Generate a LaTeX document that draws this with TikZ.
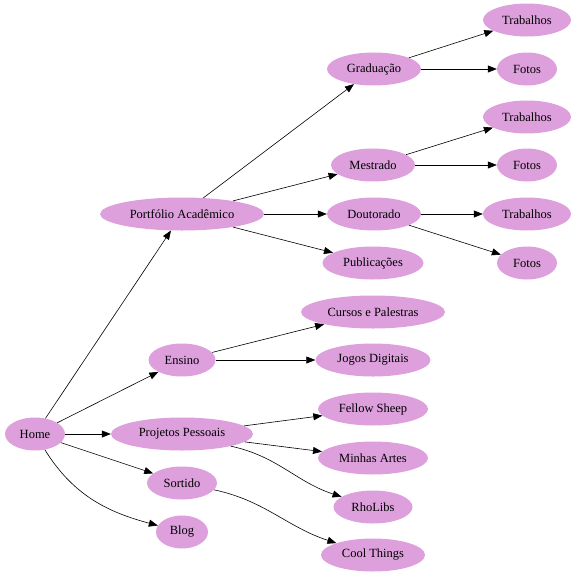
\documentclass[tikz,border=0pt]{standalone}
\usepackage{fontspec}
\setmainfont{Liberation Serif}
\usetikzlibrary{arrows.meta, shapes.geometric}
\definecolor{plum}{HTML}{DDA0DD}

\begin{document}
\begin{tikzpicture}[
  x=1pt, y=-1pt,
  >={Triangle[length=9pt, width=7pt]},
  every node/.style={font=\fontsize{12.5}{14}\selectfont},
  page/.style = {ellipse, fill=plum, inner sep=0pt, minimum height=33pt},
  arr/.style  = {->, line width=0.6pt, black},
]
  \useasboundingbox (0,0) rectangle (576,576);
  % root and first level
  \node[page, minimum width=60pt]  (home)   at (35,434)  {Home};
  \node[page, minimum width=164pt] (port)   at (182,214) {Portfólio Acadêmico};
  \node[page, minimum width=67pt]  (ensino) at (182,360) {Ensino};
  \node[page, minimum width=142pt] (proj)   at (182,434) {Projetos Pessoais};
  \node[page, minimum width=70pt]  (sort)   at (182,483) {Sortido};
  \node[page, minimum width=52pt]  (blog)   at (182,532) {Blog};
  % second level
  \node[page, minimum width=94pt]  (grad)   at (374,69)  {Graduação};
  \node[page, minimum width=84pt]  (mest)   at (373,165) {Mestrado};
  \node[page, minimum width=94pt]  (dout)   at (374,214) {Doutorado};
  \node[page, minimum width=101pt] (pub)    at (373,263) {Publicações};
  \node[page, minimum width=144pt] (cursos) at (373,312) {Cursos e Palestras};
  \node[page, minimum width=115pt] (jogos)  at (373,360) {Jogos Digitais};
  \node[page, minimum width=110pt] (fellow) at (373,409) {Fellow Sheep};
  \node[page, minimum width=110pt] (artes)  at (373,458) {Minhas Artes};
  \node[page, minimum width=79pt]  (rho)    at (373,507) {RhoLibs};
  \node[page, minimum width=104pt] (cool)   at (373,555) {Cool Things};
  % third level
  \node[page, minimum width=88pt]  (gtrab)  at (527,20)  {Trabalhos};
  \node[page, minimum width=60pt]  (gfot)   at (527,69)  {Fotos};
  \node[page, minimum width=88pt]  (mtrab)  at (527,117) {Trabalhos};
  \node[page, minimum width=60pt]  (mfot)   at (527,165) {Fotos};
  \node[page, minimum width=88pt]  (dtrab)  at (527,214) {Trabalhos};
  \node[page, minimum width=60pt]  (dfot)   at (527,263) {Fotos};
  \foreach \a/\b in {home/port,home/ensino,home/proj,home/sort,
                     port/grad,port/mest,port/dout,port/pub,
                     ensino/cursos,ensino/jogos,proj/fellow,proj/artes,
                     grad/gtrab,grad/gfot,mest/mtrab,mest/mfot,dout/dtrab,dout/dfot}
     \draw[arr] (\a) -- (\b);
  \draw[arr] (home) to[out=-58, in=165] (blog);
  \draw[arr] (proj.-14) to[out=-12, in=162] (rho);
  \draw[arr] (sort.-12) to[out=-12, in=162] (cool);
\end{tikzpicture}
\end{document}
